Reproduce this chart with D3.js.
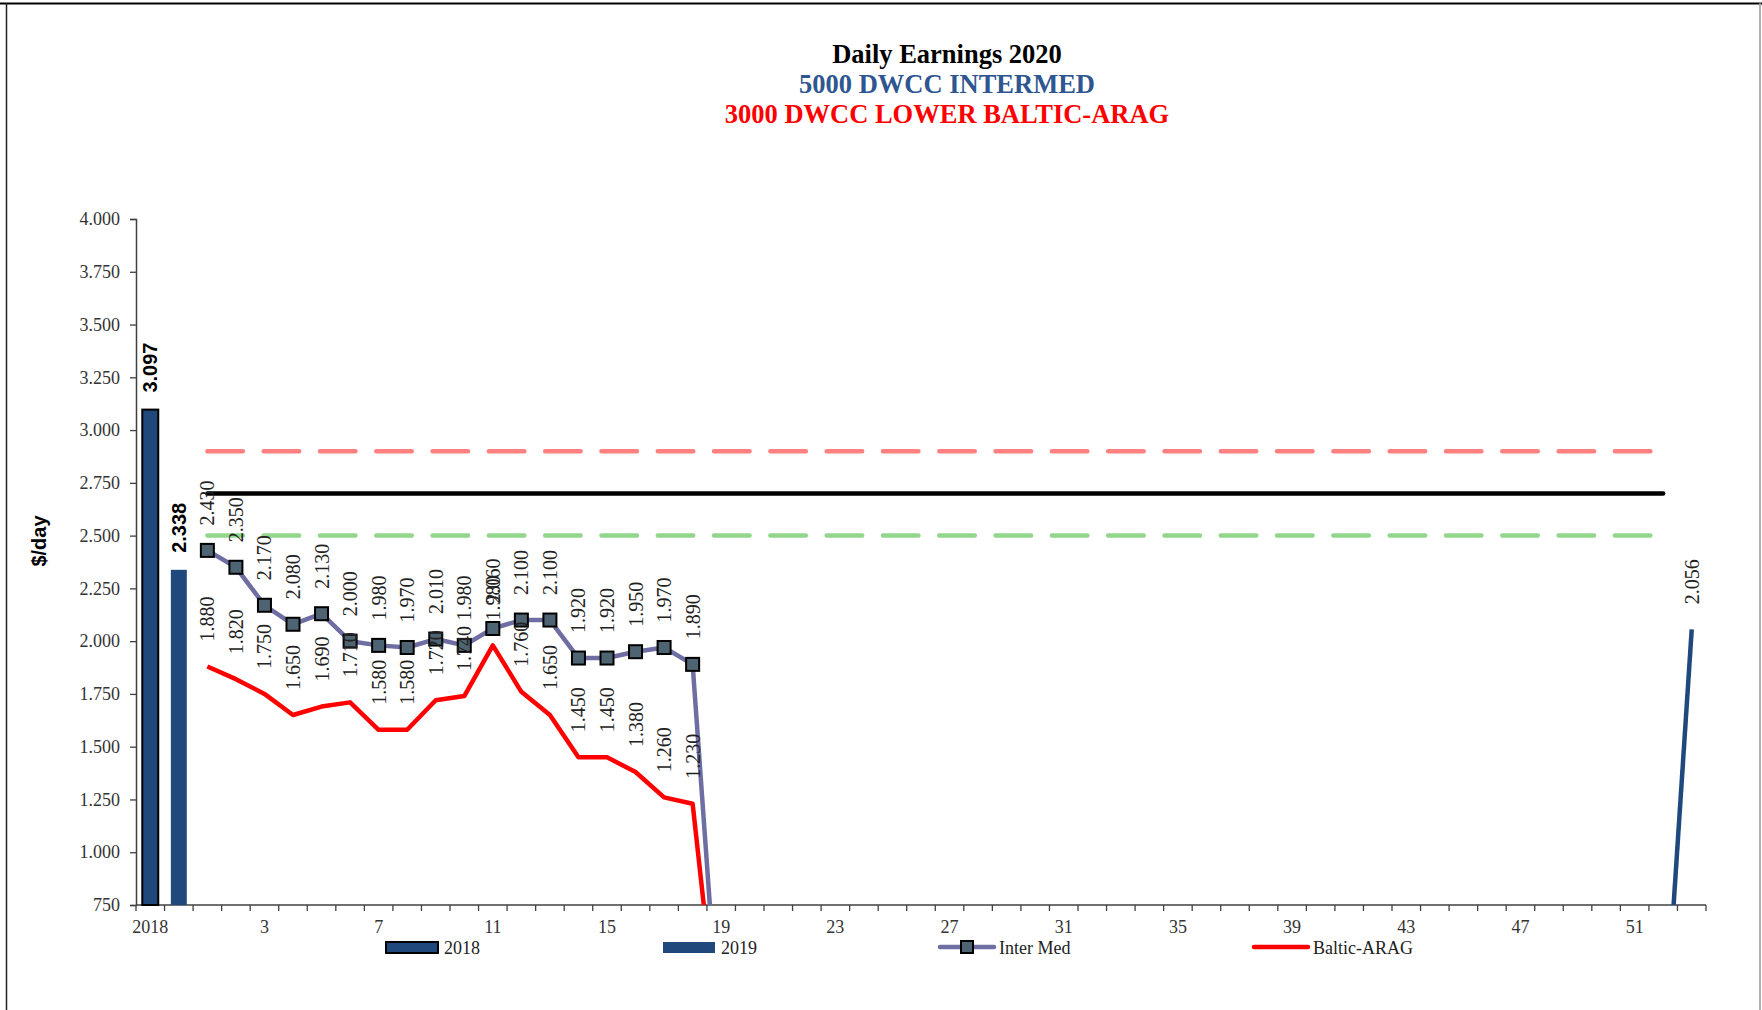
<!DOCTYPE html>
<html>
<head>
<meta charset="utf-8">
<script src="https://d3js.org/d3.v7.min.js"></script>
<style>
  body { margin: 0; background: #fff; }
  svg { display: block; }
</style>
</head>
<body>
<svg id="chart"></svg>
<script>
// categories on the x axis: two yearly averages, then weeks of 2020
const categories = ["2018", "2019",
  "1", "2", "3", "4", "5", "6", "7", "8", "9", "10", "11", "12", "13", "14", "15", "16", "17", "18",
  "19", "20", "21", "22", "23", "24", "25", "26", "27", "28", "29", "30", "31", "32", "33", "34", "35",
  "36", "37", "38", "39", "40", "41", "42", "43", "44", "45", "46", "47", "48", "49", "50", "51", "52", "53"];

// yearly bars
const barCats = ["2018", "2019"];
const barValues = [3097, 2338];

// weekly series 2020
const weeks2020 = ["1", "2", "3", "4", "5", "6", "7", "8", "9", "10", "11", "12", "13", "14", "15", "16", "17", "18", "19"];
const interMed = [2430, 2350, 2170, 2080, 2130, 2000, 1980, 1970, 2010, 1980, 2060, 2100, 2100, 1920, 1920, 1950, 1970, 1890, 0];
const balticArag = [1880, 1820, 1750, 1650, 1690, 1710, 1580, 1580, 1720, 1740, 1980, 1760, 1650, 1450, 1450, 1380, 1260, 1230, 0];

// last weeks line (dark blue)
const endWeeks = ["52", "53"];
const endValues = [0, 2056];

// horizontal reference lines (week 1 to week 52)
const refValues = [2900, 2700, 2500];
const refColors = ["#FF8080", "#000000", "#92D68C"];
const refDashed = [true, false, true];

// y axis ticks
const yTicks = [750, 1000, 1250, 1500, 1750, 2000, 2250, 2500, 2750, 3000, 3250, 3500, 3750, 4000];
// every 4th category gets a label
const xLabelCats = ["2018", "3", "7", "11", "15", "19", "23", "27", "31", "35", "39", "43", "47", "51"];

const colors = {
    bar: "#1F497D",
    inter: "#6E6EA2",
    marker: "#4E6472",
    baltic: "#FF0000",
    axis: "#404040",
    titleBlue: "#2E5690",
    titleRed: "#FF0000"
}

const W = 1762, H = 1010
const plot = { left: 136, right: 1706, top: 219, bottom: 905 }

const fmt = d3.formatLocale({ decimal: ",", thousands: ".", grouping: [3], currency: ["$", ""] }).format(",")

const svg = d3.select("#chart").attr("width", W).attr("height", H)

// chart frame
svg.append("line").attr("x1", 0).attr("x2", W).attr("y1", 3.5).attr("y2", 3.5)
    .attr("stroke", "#000").attr("stroke-width", 2)
svg.append("line").attr("x1", 6.5).attr("x2", 6.5).attr("y1", 3).attr("y2", H)
    .attr("stroke", "#222").attr("stroke-width", 1.5)
svg.append("line").attr("x1", 1760).attr("x2", 1760).attr("y1", 3).attr("y2", H)
    .attr("stroke", "#999").attr("stroke-width", 1.5)

// titles
const titles = [
    { text: "Daily Earnings 2020", color: "#000", y: 63 },
    { text: "5000 DWCC INTERMED", color: colors.titleBlue, y: 93 },
    { text: "3000 DWCC LOWER BALTIC-ARAG", color: colors.titleRed, y: 123 }
]
svg.append("g").selectAll("text").data(titles).enter().append("text")
    .attr("x", 947).attr("y", d => d.y)
    .attr("text-anchor", "middle")
    .attr("font-family", "'Liberation Serif', 'Times New Roman', serif")
    .attr("font-weight", "bold").attr("font-size", "26.5px")
    .attr("fill", d => d.color)
    .text(d => d.text)

// scales
const x = d3.scaleBand().domain(categories).range([plot.left, plot.right]).paddingInner(0).paddingOuter(0)
const y = d3.scaleLinear().domain([750, 4000]).range([plot.bottom, plot.top])
const cx = c => x(c) + x.bandwidth() / 2

svg.append("defs").append("clipPath").attr("id", "clip")
    .append("rect").attr("x", plot.left).attr("y", 0)
    .attr("width", plot.right - plot.left).attr("height", plot.bottom)

// y axis
const yAxis = svg.append("g").attr("transform", `translate(${plot.left},0)`)
    .call(d3.axisLeft(y).tickValues(yTicks).tickFormat(fmt).tickSize(6).tickPadding(10))
yAxis.select(".domain").attr("stroke", colors.axis).attr("stroke-width", 1.5)
yAxis.selectAll(".tick line").attr("stroke", colors.axis).attr("stroke-width", 1.3)
yAxis.selectAll(".tick text").attr("font-family", "'Liberation Serif', 'Times New Roman', serif")
    .attr("font-size", "18px").attr("fill", "#333")

svg.append("text")
    .attr("transform", "translate(39,541) rotate(-90)")
    .attr("text-anchor", "middle").attr("dominant-baseline", "central")
    .attr("font-family", "'Liberation Sans', Arial, sans-serif")
    .attr("font-weight", "bold").attr("font-size", "20px")
    .text("$/day")

// x axis
const xAxis = svg.append("g").attr("transform", `translate(0,${plot.bottom})`)
    .call(d3.axisBottom(x).tickValues(xLabelCats).tickSize(0).tickPadding(15))
xAxis.select(".domain").remove()
xAxis.selectAll(".tick text").attr("font-family", "'Liberation Serif', 'Times New Roman', serif")
    .attr("font-size", "18px").attr("fill", "#333")
svg.append("line").attr("x1", plot.left).attr("x2", plot.right)
    .attr("y1", plot.bottom).attr("y2", plot.bottom)
    .attr("stroke", colors.axis).attr("stroke-width", 1.5)
const boundaries = categories.map(c => x(c)).concat([plot.right])
svg.append("g").selectAll("line").data(boundaries).enter().append("line")
    .attr("x1", d => d).attr("x2", d => d)
    .attr("y1", plot.bottom).attr("y2", plot.bottom + 6)
    .attr("stroke", colors.axis).attr("stroke-width", 1.3)

// bars
const barW = x.bandwidth() * 0.56
svg.append("g").selectAll("rect").data(barCats).enter().append("rect")
    .attr("x", d => cx(d) - barW / 2)
    .attr("width", barW)
    .attr("y", (d, i) => y(barValues[i]))
    .attr("height", (d, i) => plot.bottom - y(barValues[i]))
    .attr("fill", colors.bar)
    .attr("stroke", (d, i) => i === 0 ? "#000" : "none")
    .attr("stroke-width", 2)
svg.append("g").selectAll("text").data(barCats).enter().append("text")
    .attr("transform", (d, i) => `translate(${cx(d)},${y(barValues[i]) - 17}) rotate(-90)`)
    .attr("dominant-baseline", "central")
    .attr("font-family", "'Liberation Sans', Arial, sans-serif")
    .attr("font-weight", "bold").attr("font-size", "20px")
    .text((d, i) => fmt(barValues[i]))

// reference lines
const refX1 = cx("1"), refX2 = cx("52")
svg.append("g").selectAll("line").data(refValues).enter().append("line")
    .attr("x1", refX1).attr("x2", refX2)
    .attr("y1", d => y(d)).attr("y2", d => y(d))
    .attr("stroke", (d, i) => refColors[i])
    .attr("stroke-width", 4.5)
    .attr("stroke-linecap", "round")
    .attr("stroke-dasharray", (d, i) => refDashed[i] ? "35.5,20.8" : null)

// lines
const lineGroup = svg.append("g").attr("clip-path", "url(#clip)")
const line = d3.line().x(d => cx(d[0])).y(d => y(d[1]))

lineGroup.append("path")
    .attr("d", line(endWeeks.map((w, i) => [w, endValues[i]])))
    .attr("fill", "none").attr("stroke", colors.bar).attr("stroke-width", 4.5)
    .attr("stroke-linejoin", "round")

lineGroup.append("path")
    .attr("d", line(weeks2020.map((w, i) => [w, balticArag[i]])))
    .attr("fill", "none").attr("stroke", colors.baltic).attr("stroke-width", 4.5)
    .attr("stroke-linejoin", "round")

lineGroup.append("path")
    .attr("d", line(weeks2020.map((w, i) => [w, interMed[i]])))
    .attr("fill", "none").attr("stroke", colors.inter).attr("stroke-width", 4.5)
    .attr("stroke-linejoin", "round")

// markers for Inter Med (only visible points)
const interPts = weeks2020.map((w, i) => ({ w: w, v: interMed[i] })).filter(d => d.v > 750)
lineGroup.selectAll("rect.marker").data(interPts).enter().append("rect")
    .attr("class", "marker")
    .attr("x", d => cx(d.w) - 6.5).attr("y", d => y(d.v) - 6.5)
    .attr("width", 13).attr("height", 13)
    .attr("fill", colors.marker).attr("stroke", "#000").attr("stroke-width", 2)

// data labels (rotated)
const labelFont = "'Liberation Serif', 'Times New Roman', serif"
const addLabels = (pts) => {
    svg.append("g").selectAll("text").data(pts).enter().append("text")
        .attr("transform", d => `translate(${cx(d.w)},${y(d.v) - 25}) rotate(-90)`)
        .attr("dominant-baseline", "central")
        .attr("font-family", labelFont).attr("font-size", "20px")
        .attr("fill", "#222")
        .text(d => fmt(d.v))
}
addLabels(weeks2020.map((w, i) => ({ w: w, v: balticArag[i] })).filter(d => d.v > 750))
addLabels(interPts)
addLabels(endWeeks.map((w, i) => ({ w: w, v: endValues[i] })).filter(d => d.v > 750))

// legend
const legendItems = [
    { name: "2018", kind: "barOutline", x: 386 },
    { name: "2019", kind: "bar", x: 663 },
    { name: "Inter Med", kind: "marker", x: 940 },
    { name: "Baltic-ARAG", kind: "line", x: 1254 }
]
const legY = 947
const lg = svg.append("g").selectAll("g").data(legendItems).enter().append("g")
    .attr("transform", d => `translate(${d.x},${legY})`)
lg.filter(d => d.kind === "barOutline" || d.kind === "bar").append("rect")
    .attr("x", 0).attr("y", -5).attr("width", 52).attr("height", 11)
    .attr("fill", colors.bar)
    .attr("stroke", d => d.kind === "barOutline" ? "#000" : "none")
    .attr("stroke-width", 2)
lg.filter(d => d.kind === "marker").append("line")
    .attr("x1", 0).attr("x2", 54).attr("y1", 0).attr("y2", 0)
    .attr("stroke", colors.inter).attr("stroke-width", 4.5).attr("stroke-linecap", "round")
lg.filter(d => d.kind === "marker").append("rect")
    .attr("x", 21).attr("y", -6).attr("width", 12).attr("height", 12)
    .attr("fill", colors.marker).attr("stroke", "#000").attr("stroke-width", 2)
lg.filter(d => d.kind === "line").append("line")
    .attr("x1", 0).attr("x2", 54).attr("y1", 0).attr("y2", 0)
    .attr("stroke", colors.baltic).attr("stroke-width", 4.5).attr("stroke-linecap", "round")
lg.append("text")
    .attr("x", d => d.kind === "barOutline" || d.kind === "bar" ? 58 : 59)
    .attr("y", 6.5)
    .attr("font-family", labelFont).attr("font-size", "18px").attr("fill", "#222")
    .text(d => d.name)
</script>
</body>
</html>
